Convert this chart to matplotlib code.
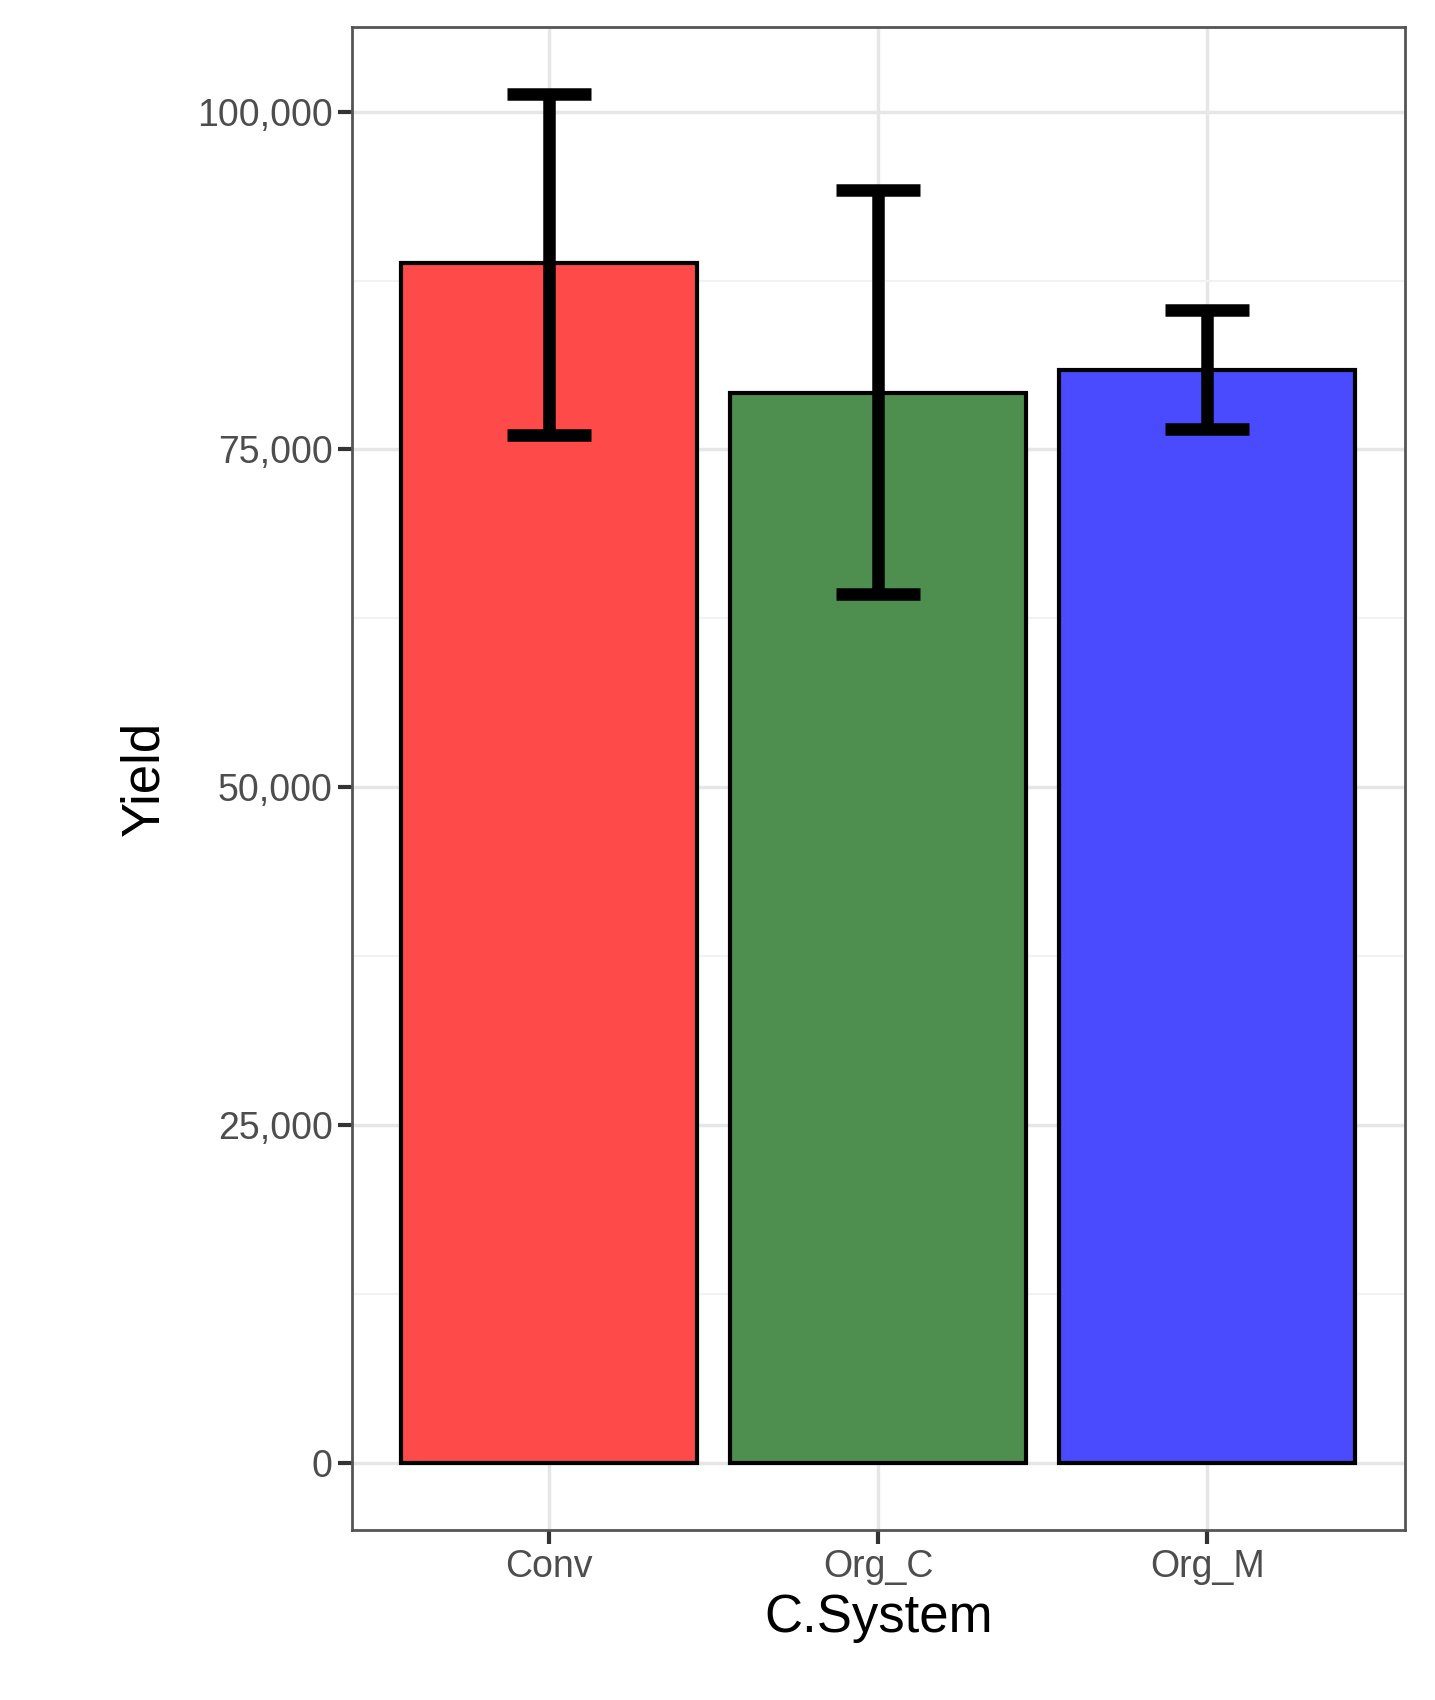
import matplotlib
matplotlib.use("Agg")
import matplotlib.pyplot as plt
from matplotlib.ticker import FuncFormatter, MultipleLocator

categories = ["Conv", "Org_C", "Org_M"]
means = [88800, 79200, 80900]
err_low = [76100, 64300, 76500]
err_high = [101300, 94200, 85300]
colors = ["#FF4A4A", "#4E8E4E", "#4A4AFF"]
yticks = [0, 25000, 50000, 75000, 100000]

plt.rcParams['font.family'] = ['Liberation Sans', 'DejaVu Sans']
fig = plt.figure(figsize=(14.35, 17.0), dpi=100)
ax = fig.add_axes([0.245, 0.10, 0.734, 0.884])
x = list(range(len(categories)))
ax.bar(x, means, width=0.9, color=colors, edgecolor="black", linewidth=3, zorder=3)
yerr = [[m - l for m, l in zip(means, err_low)], [h - m for m, h in zip(means, err_high)]]
ax.errorbar(x, means, yerr=yerr, fmt="none", ecolor="black", elinewidth=9,
            capsize=30, capthick=9, zorder=4)
ax.set_xlim(-0.6, 2.6)
ax.set_ylim(-4970, 106250)
ax.set_yticks(yticks)
ax.yaxis.set_minor_locator(MultipleLocator(12500))
ax.xaxis.set_minor_locator(MultipleLocator(0.5)) if False else None
ax.yaxis.set_major_formatter(FuncFormatter(lambda v, p: f"{int(v):,}"))
ax.set_xticks(x)
ax.set_xticklabels(categories)
ax.grid(True, which="major", color="#E6E6E6", linewidth=2.5, zorder=0)
ax.grid(True, which="minor", axis="y", color="#F2F2F2", linewidth=1.5, zorder=0)
ax.tick_params(axis="both", which="major", labelsize=27, labelcolor="#4D4D4D",
               color="#333333", length=10, width=3)
ax.tick_params(axis="y", which="minor", length=0)
for s in ax.spines.values():
    s.set_color("#555555"); s.set_linewidth(2)
ax.set_xlabel("C.System", fontsize=38, labelpad=6)
ax.set_ylabel("Yield", fontsize=38, labelpad=20)
fig.savefig("out.png", dpi=100, facecolor="white")
